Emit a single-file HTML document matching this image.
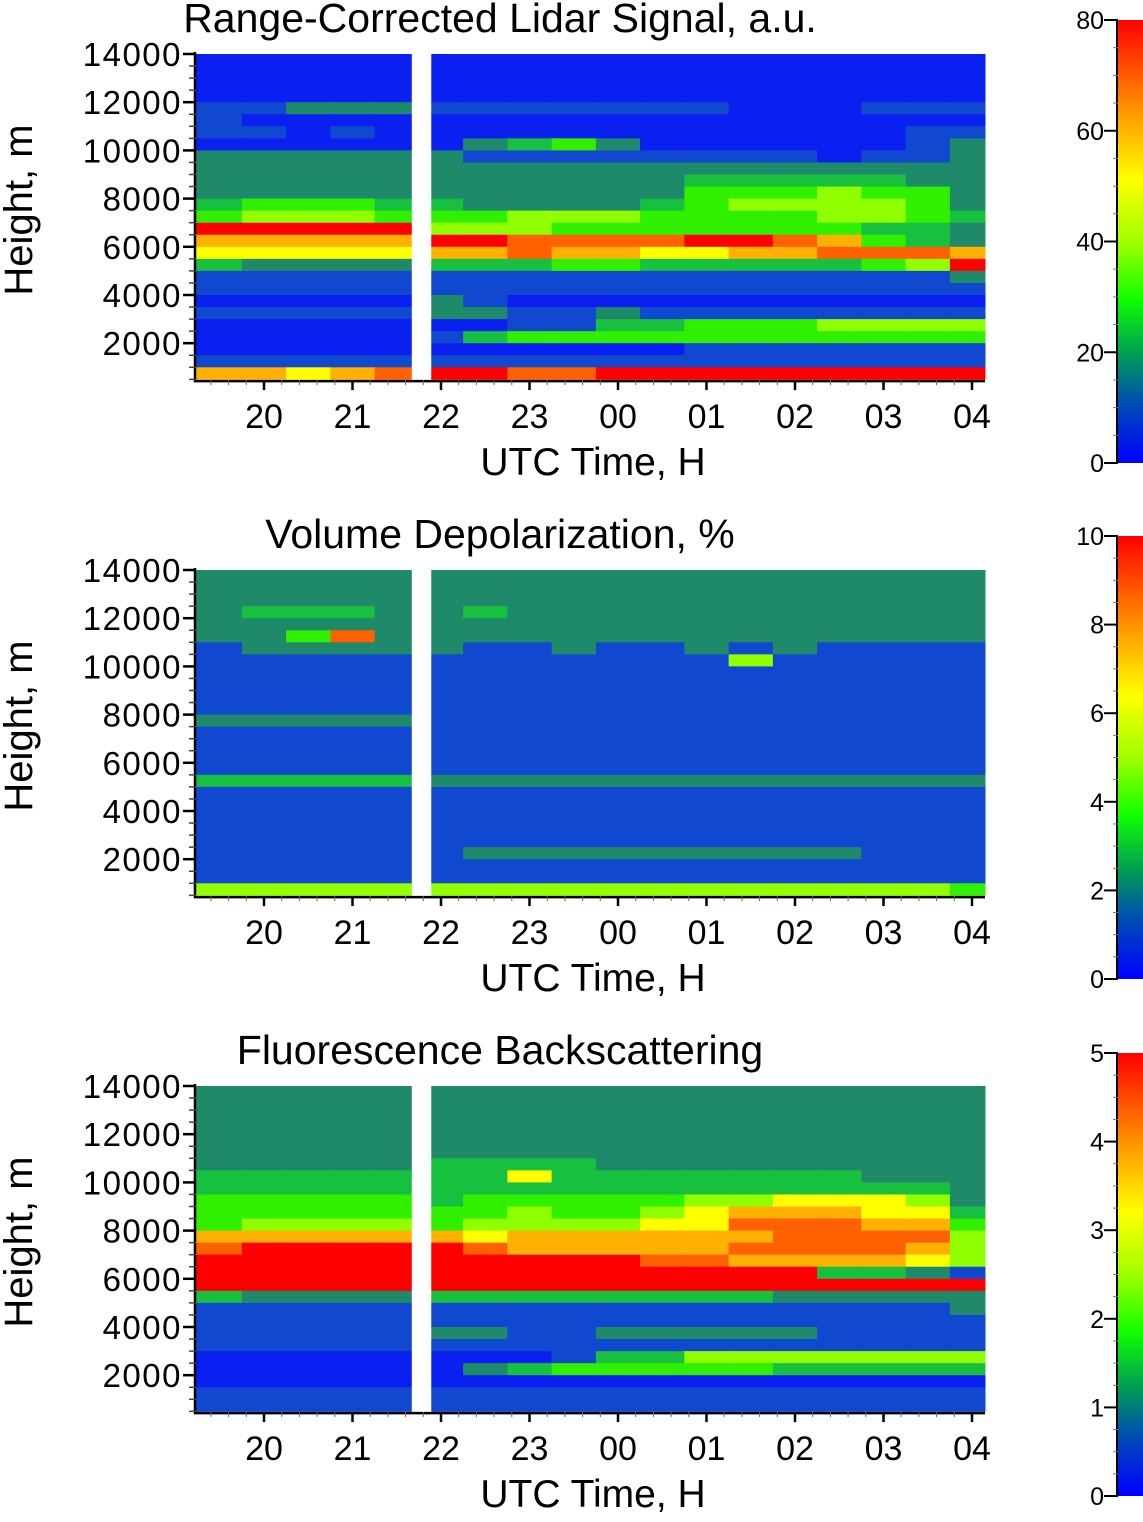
<!DOCTYPE html>
<html><head><meta charset="utf-8"><style>
html,body{margin:0;padding:0;background:#fff;}
svg text{font-family:"Liberation Sans",Arial,sans-serif;fill:#000;}
</style></head><body>
<svg id="chart" width="1143" height="1517" viewBox="0 0 1143 1517" xmlns="http://www.w3.org/2000/svg">
<defs>
<linearGradient id="cmap" x1="0" y1="1" x2="0" y2="0">
<stop offset="0" stop-color="#0000ff"/><stop offset="0.14" stop-color="#0050b0"/>
<stop offset="0.25" stop-color="#00a050"/><stop offset="0.37" stop-color="#10ff00"/>
<stop offset="0.5" stop-color="#a0ff00"/><stop offset="0.64" stop-color="#ffff00"/>
<stop offset="0.78" stop-color="#ffa000"/><stop offset="1" stop-color="#ff0000"/>
</linearGradient>
</defs>
</svg>
<script>
// ---- data ----
const timeStarts = [19.2,19.75,20.25,20.75,21.25,21.75,22.25,22.75,23.25,23.75,24.25,24.75,25.25,25.75,26.25,26.75,27.25,27.75];
const timeEnd = 28.15;
const heightCenters = [13750,13250,12750,12250,11750,11250,10750,10250,9750,9250,8750,8250,7750,7250,6750,6250,5750,5250,4750,4250,3750,3250,2750,2250,1750,1250,750];
const xTickLabels = ["20","21","22","23","00","01","02","03","04"];
const xTickHours = [20,21,22,23,24,25,26,27,28];
const yTickLabels = ["14000","12000","10000","8000","6000","4000","2000"];
const yTickValues = [14000,12000,10000,8000,6000,4000,2000];
const gapStart = 21.67, gapEnd = 21.89;
const titles = ["Range-Corrected Lidar Signal, a.u.","Volume Depolarization, %","Fluorescence Backscattering"];
const cbarMax = [80,10,5];
const cbarTicks1 = [0,20,40,60,80];
const cbarTicks2 = [0,2,4,6,8,10];
const cbarTicks3 = [0,1,2,3,4,5];
// levels 0-9 (fraction of colorbar max), rows top->bottom
const signalGrid = [
"000000000000000000","000000000000000000","000000000000000000","000000000000000000",
"112221111111000111","100000000000000000","110100000000000011","000000234200000012",
"222222111111110112","222222222222222222","222222222223333322","222222222224445442",
"344433222234555542","455544455544445543","999995554444444332","777779988889987432",
"666667787766778887","322223334433333459","111111111111111112","111111111111111111",
"000002100000000000","111112211211111111","000000011334445555","000001344444444444",
"000000000001111111","111111111111111111","776789988999999999"];
const depolGrid = [
"222222222222222222","222222222222222222","222222222222222222","233322322222222222",
"222222222222222222","224822222222222222","122222112112121111","111111111111511111",
"111111111111111111","111111111111111111","111111111111111111","111111111111111111",
"222221111111111111","111111111111111111","111111111111111111","111111111111111111",
"111111111111111111","333332222222222222","111111111111111111","111111111111111111",
"111111111111111111","111111111111111111","111111111111111111","111111222222222111",
"111111111111111111","111111111111111111","555555555555555554"];
const fluorGrid = [
"222222222222222222","222222222222222222","222222222222222222","222222222222222222",
"222222222222222222","222222222222222222","222223333222222222","333333363333333222",
"333333333333333332","444443444445566652","444444454456777663","455554555566888774",
"777777677777788885","899999877777888875","999999999988777765","999999999999993321",
"999999999999999999","322223333333322222","111111111111111112","111111111111111111",
"111112211222221111","111111111111111111","000000001335555555","000000234444433333",
"000000000000000000","111111111111111111","111111111111111111"];
const grids = [signalGrid, depolGrid, fluorGrid];
const levelColors = ["#0a20f0","#1048d0","#1f8a6a","#18c040","#30f000","#90ff00","#ffff00","#ffb000","#ff6000","#ff0000"];

// ---- layout ----
const NS = "http://www.w3.org/2000/svg";
const svg = document.getElementById("chart");
const panelTops = [54,570,1086];
const plotLeft = 196, plotRight = 985;
const pxPer1000 = 24.1;
const minH = 470;
const cbarTops = [20,536,1053], cbarH = 443, cbarX = 1118, cbarW = 25;
function xScale(t){ return 264 + (t-20)*88.5; }
function mk(tag, attrs, parent){ const e=document.createElementNS(NS,tag); for(const k in attrs) e.setAttribute(k,attrs[k]); (parent||svg).appendChild(e); return e; }

titles.forEach((title, p) => {
  const top = panelTops[p];
  const yScale = h => top + (14000-h)/1000*pxPer1000;
  const bottom = yScale(minH);
  const g = mk("g", {});
  
  
  const grid = grids[p];
  heightCenters.forEach((hc, r) => {
    const y0 = Math.max(yScale(hc+250), top), y1 = Math.min(yScale(hc-250), bottom);
    timeStarts.forEach((ts, c) => {
      const te = c+1 < timeStarts.length ? timeStarts[c+1] : timeEnd;
      const x0 = Math.max(xScale(ts), plotLeft), x1 = Math.min(xScale(te), plotRight);
      const lvl = +grid[r][c];
      const rc = mk("rect", {x:x0, y:y0, width:x1-x0+0.5, height:y1-y0+0.5, fill:levelColors[lvl]}, g);
      
      
    });
  });
  const gap = mk("rect", {x:xScale(gapStart), y:top-3, width:xScale(gapEnd)-xScale(gapStart), height:bottom-top+4, fill:"#fff"}, g);
  
  
  const ax = mk("path", {d:`M${plotLeft-1} ${top-2} V${bottom+1} H${plotRight}`, stroke:"#000", "stroke-width":2.5, fill:"none"}, g);
  
  
  for(let h=14000; h>=minH; h-=500){
    const tk = mk("line", {x1:plotLeft-7, x2:plotLeft, y1:yScale(h), y2:yScale(h), stroke:"#444", "stroke-width":1.5}, g);
    
    
  }
  yTickValues.forEach((v,i) => {
    const tk = mk("line", {x1:plotLeft-13, x2:plotLeft, y1:yScale(v), y2:yScale(v), stroke:"#000", "stroke-width":2.5}, g);
    
    
    const tx = mk("text", {x:plotLeft-14, y:yScale(v)+12, "text-anchor":"end", "font-size":33, "letter-spacing":1.5}, g);
    tx.textContent = yTickLabels[i];
    
    
  });
  for(let t=19.4; t<=timeEnd; t+=0.2){
    const tk = mk("line", {x1:xScale(t), x2:xScale(t), y1:bottom, y2:bottom+5, stroke:"#666", "stroke-width":1}, g);
    
    
  }
  xTickHours.forEach((hr,i) => {
    const tk = mk("line", {x1:xScale(hr), x2:xScale(hr), y1:bottom, y2:bottom+10, stroke:"#000", "stroke-width":2.5}, g);
    
    
    const tx = mk("text", {x:xScale(hr), y:bottom+48, "text-anchor":"middle", "font-size":34}, g);
    tx.textContent = xTickLabels[i];
    
    
  });
  const xt = mk("text", {x:593, y:bottom+95, "text-anchor":"middle", "font-size":39}, g);
  xt.textContent = "UTC Time, H";
  
  
  const yt = mk("text", {x:0, y:0, "text-anchor":"middle", "font-size":40, transform:`translate(32 ${top+156}) rotate(-90)`}, g);
  yt.textContent = "Height, m";
  
  
  const tt = mk("text", {x:500, y:top-22, "text-anchor":"middle", "font-size":41}, g);
  tt.textContent = title;
  
  
  const ct = cbarTops[p];
  const cb = mk("rect", {x:cbarX, y:ct, width:cbarW, height:cbarH, fill:"url(#cmap)"}, g);
  
  
  const cbl = mk("line", {x1:cbarX-1, x2:cbarX-1, y1:ct, y2:ct+cbarH, stroke:"#000", "stroke-width":2}, g);
  
  
  const ticks = [cbarTicks1, cbarTicks2, cbarTicks3][p];
  const mx = cbarMax[p];
  const cy = v => ct + cbarH - v/mx*cbarH;
  const step = (ticks[1]-ticks[0])/4;
  for(let v=0; v<=mx+1e-9; v+=step){
    const tk = mk("line", {x1:cbarX-5, x2:cbarX, y1:cy(v), y2:cy(v), stroke:"#777", "stroke-width":1}, g);
    
    
  }
  ticks.forEach(v => {
    const tk = mk("line", {x1:cbarX-14, x2:cbarX, y1:cy(v), y2:cy(v), stroke:"#000", "stroke-width":2}, g);
    
    
    const tx = mk("text", {x:cbarX-14, y:cy(v)+9, "text-anchor":"end", "font-size":25}, g);
    tx.textContent = String(v);
    
    
  });
});
</script>
</body></html>
